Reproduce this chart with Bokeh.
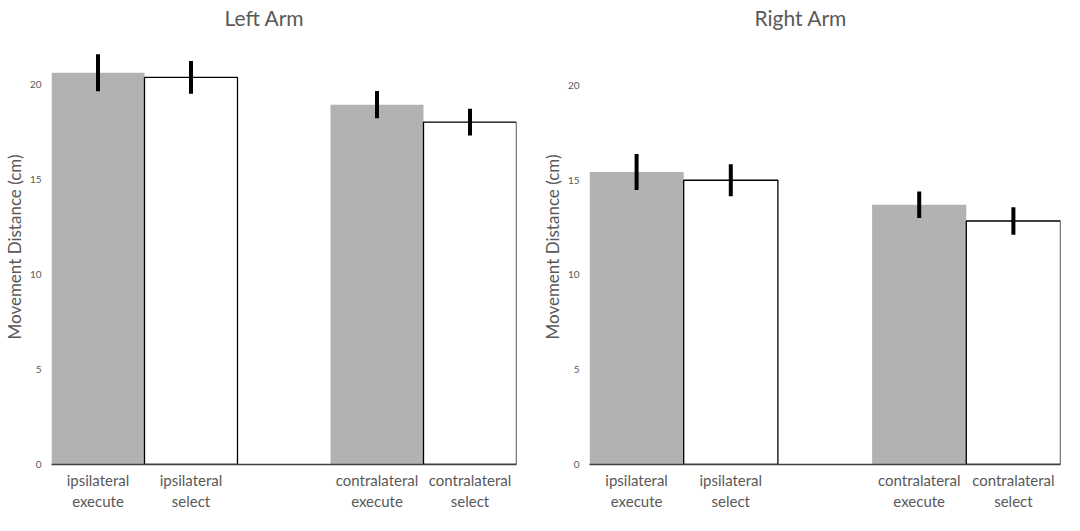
from bokeh.plotting import figure
from bokeh.layouts import row
from bokeh.models import FactorRange, Range1d, FixedTicker, ColumnDataSource
from bokeh.embed import file_html
from bokeh.resources import INLINE

categories = ["ipsilateral\nexecute", "ipsilateral\nselect", "contralateral\nexecute", "contralateral\nselect"]
gap = " "
left_means = [20.6, 20.35, 18.92, 18.0]
left_err = [0.97, 0.86, 0.72, 0.70]
right_means = [15.42, 14.99, 13.70, 12.84]
right_err = [0.95, 0.85, 0.70, 0.72]
fills = ["#b2b2b2", "#ffffff", "#b2b2b2", "#ffffff"]
outlines = [None, "#000000", None, "#000000"]
y_ticks = [0, 5, 10, 15, 20]

FONT = "Lato"
GREY = "#595959"


def make(title, means, errs, width, bl, br, bb, yend, toff):
    factors = [categories[0], categories[1], gap, categories[2], categories[3]]
    p = figure(width=width, height=515, x_range=FactorRange(factors=factors, range_padding=0),
               y_range=Range1d(0, yend), output_backend="svg", toolbar_location=None,
               min_border_left=bl, min_border_right=br, min_border_bottom=bb, min_border_top=29)
    p.title.text = title
    p.title.align = "left"
    p.title.offset = toff
    p.title.text_font = FONT
    p.title.text_font_size = "21px"
    p.title.text_font_style = "normal"
    p.title.text_color = GREY
    p.title.standoff = 0
    src = ColumnDataSource(dict(x=categories, top=means,
                                lo=[m - e for m, e in zip(means, errs)],
                                hi=[m + e for m, e in zip(means, errs)],
                                fill=fills, line=outlines))
    p.vbar(x="x", top="top", width=1.0, source=src, fill_color="fill",
           line_color="line", line_width=1.3)
    p.segment(x0="x", x1="x", y0="lo", y1="hi", source=src, line_color="#000000", line_width=4)
    p.xgrid.visible = False
    p.ygrid.visible = False
    p.outline_line_color = None
    ya = p.yaxis[0]
    ya.ticker = FixedTicker(ticks=y_ticks)
    ya.axis_line_color = None
    ya.major_tick_line_color = None
    ya.minor_tick_line_color = None
    ya.major_tick_out = 0
    ya.major_tick_in = 0
    ya.major_label_text_font = FONT
    ya.major_label_text_font_size = "10px"
    ya.major_label_text_color = GREY
    ya.major_label_standoff = 10
    ya.axis_label = "Movement Distance (cm)"
    ya.axis_label_text_font = FONT
    ya.axis_label_text_font_size = "17px"
    ya.axis_label_text_font_style = "normal"
    ya.axis_label_text_color = GREY
    ya.axis_label_standoff = 2
    xa = p.xaxis[0]
    xa.axis_line_color = "#404040"
    xa.axis_line_width = 1.5
    xa.major_tick_line_color = None
    xa.minor_tick_line_color = None
    xa.major_tick_out = 0
    xa.major_tick_in = 0
    xa.major_label_text_font = FONT
    xa.major_label_text_font_size = "15px"
    xa.major_label_text_color = GREY
    xa.major_label_standoff = 6
    return p


p1 = make("Left Arm", left_means, left_err, 532, 51, 16, 49, 22.87, 173)
p2 = make("Right Arm", right_means, right_err, 532, 57, 4, 51, 22.94, 165)
layout = row(p1, p2)

open("out.html", "w").write(file_html(layout, INLINE))
